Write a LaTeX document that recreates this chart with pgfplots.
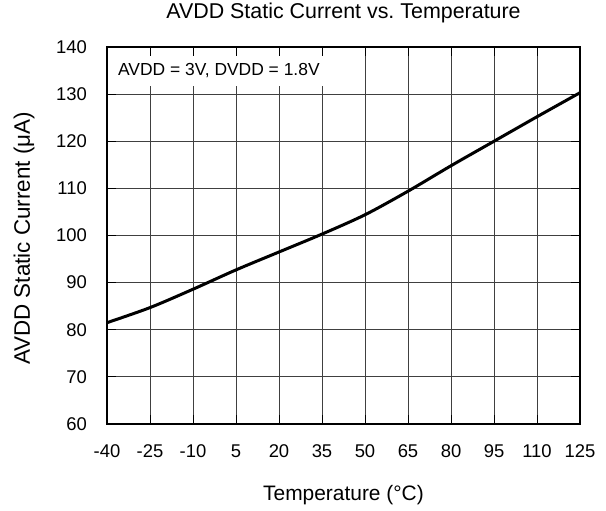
\documentclass[border=0pt]{standalone}
\usepackage{fontspec}
\setmainfont{Liberation Sans}
\usepackage{pgfplots}
\pgfplotsset{compat=1.18}
\frenchspacing
\begin{document}
\begin{tikzpicture}
\begin{axis}[
  at={(0,0)}, anchor=south west,
  scale only axis,
  width=473bp, height=377bp,
  xmin=-40, xmax=125, ymin=60, ymax=140,
  xtick={-40,-25,...,125},
  ytick={60,70,...,140},
  grid=major,
  major grid style={black!75, line width=0.8bp},
  axis line style={black, line width=2.2bp},
  major tick length=9bp,
  tick style={black, line width=0.8bp},
  /pgf/number format/assume math mode=true,
  tick label style={font=\fontsize{18.5}{20}\selectfont},
  xticklabel style={anchor=base, inner sep=0pt, yshift=-33bp},
  yticklabel style={anchor=east, inner sep=0pt, xshift=-20bp},
  title={AVDD Static Current vs. Temperature},
  title style={font=\fontsize{21.5}{24}\selectfont, anchor=base, at={([yshift=23bp]axis description cs:0.5,1)}},
  xlabel={Temperature (\textdegree C)},
  xlabel style={font=\fontsize{21}{24}\selectfont, anchor=base, at={([yshift=-76bp]axis description cs:0.5,0)}},
  ylabel={AVDD Static Current (μA)},
  ylabel style={font=\fontsize{22.5}{24}\selectfont, anchor=base, rotate=0, at={([xshift=-77bp,yshift=-3bp]axis description cs:0,0.5)}},
]
\fill[white] (axis cs:-39.5,131.7) rectangle (axis cs:41,138.1);
\node[anchor=west, inner sep=0pt, font=\fontsize{17.5}{20}\selectfont] at (axis cs:-36.2,135.1) {AVDD = 3V, DVDD = 1.8V};
\addplot[black, line width=3bp, smooth, tension=0.5] coordinates {
(-40,81.5) (-25,84.7) (-10,88.6) (5,92.7) (20,96.5) (35,100.3) (50,104.4) (65,109.4) (80,114.8) (95,120.0) (110,125.2) (125,130.3)
};
\end{axis}
\pgfresetboundingbox
\path[use as bounding box] (-107bp,-87bp) rectangle (499bp,424bp);
\end{tikzpicture}
\end{document}
